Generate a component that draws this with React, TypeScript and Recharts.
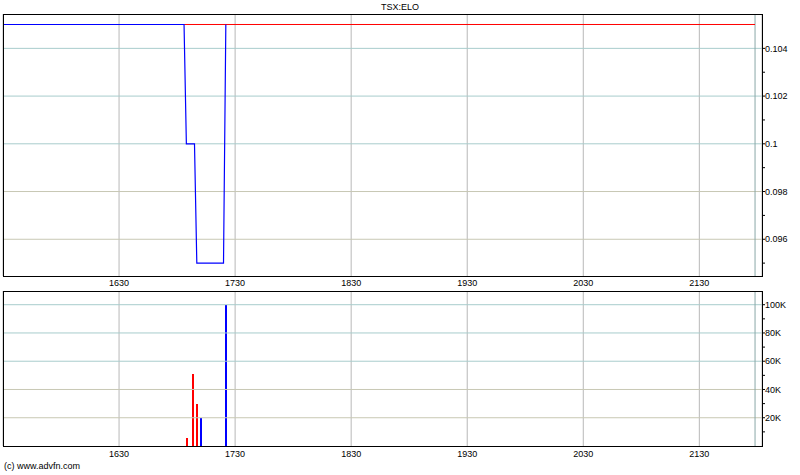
import { LineChart, Line, BarChart, Bar, Cell, XAxis, YAxis, CartesianGrid, ReferenceLine } from "recharts";

const FONT = "'Liberation Sans', Arial, sans-serif";

// x axis (time, HHMM-ish numeric)
const timeTicks = [1630, 1730, 1830, 1930, 2030, 2130];
const timeDomain = [1530, 2184];
const endTime = 2178;

// price panel
const blueTimes = [1530, 1686, 1688, 1695, 1697, 1720, 1722];
const bluePrices = [0.105, 0.105, 0.1, 0.1, 0.095, 0.095, 0.105];
const redTimes = [1686, 2178];
const redPrices = [0.105, 0.105];
const priceTicks = [0.095, 0.096, 0.097, 0.098, 0.099, 0.1, 0.101, 0.102, 0.103, 0.104];
const priceLabels = [0.096, 0.098, 0.1, 0.102, 0.104];
const priceDomain = [0.09446, 0.10544];

// volume panel
const volTimes = [1688.6, 1693.8, 1697.2, 1700.7, 1722.2];
const volValues = [5400, 51000, 30000, 20000, 100000];
const volColors = ["#ff0000", "#ff0000", "#ff0000", "#0000ff", "#0000ff"];
const volTicks = [10000, 20000, 30000, 40000, 50000, 60000, 70000, 80000, 90000, 100000];
const volLabels = [20000, 40000, 60000, 80000, 100000];
const volDomain = [0, 109700];

const blueData = blueTimes.map((t, i) => ({ t, v: bluePrices[i] }));
const redData = redTimes.map((t, i) => ({ t, v: redPrices[i] }));
const volData = volTimes.map((t, i) => ({ t, v: volValues[i] }));

const tealGrid = "#a8cccc";
const greyGrid = "#c8c8b4";
const vGrid = "#b8b8b8";
const tick = { fontSize: 9, fill: "#000", fontFamily: FONT };

function gridColor(i: number, n: number) {
  // upper lines teal-ish, lower ones grey-ish
  return i >= n - 3 ? tealGrid : greyGrid;
}

export default function App() {
  return (
    <div style={{ position: "fixed", left: 0, top: 0, width: 800, height: 475, background: "#fff", fontFamily: FONT }}>
      <div style={{ position: "absolute", top: 0, left: 0 }}>
        <LineChart width={800} height={290} margin={{ top: 14, right: 0, left: 3, bottom: 0 }}>
          <CartesianGrid horizontal={false} stroke={vGrid} />
          <XAxis
            dataKey="t"
            type="number"
            domain={timeDomain}
            ticks={timeTicks}
            allowDataOverflow
            height={14}
            tickLine={false}
            axisLine={false}
            tickSize={0}
            tickMargin={4}
            tick={tick}
          />
          <YAxis
            orientation="right"
            type="number"
            domain={priceDomain}
            ticks={priceTicks}
            allowDataOverflow
            width={38}
            axisLine={false}
            tickLine={{ stroke: "#000" }}
            tickSize={3}
            tickMargin={0}
            tick={tick}
            tickFormatter={(v: number) => (priceLabels.some((p) => Math.abs(p - v) < 1e-7) ? String(+v.toFixed(3)) : "")}
          />
          {priceLabels.map((p, i) => (
            <ReferenceLine key={p} y={p} stroke={gridColor(i, priceLabels.length)} ifOverflow="hidden" />
          ))}
          <ReferenceLine x={endTime} stroke="#8aa8a8" />
          <Line data={redData} dataKey="v" stroke="#ff0000" strokeWidth={1} dot={false} isAnimationActive={false} />
          <Line data={blueData} dataKey="v" stroke="#0000ff" strokeWidth={1.2} dot={false} isAnimationActive={false} />
        </LineChart>
      </div>
      <div style={{ position: "absolute", left: 3, top: 14, width: 760, height: 263, border: "1px solid #000", boxSizing: "border-box", pointerEvents: "none" }} />

      <div style={{ position: "absolute", top: 280, left: 0 }}>
        <BarChart width={800} height={182} data={volData} margin={{ top: 11, right: 0, left: 3, bottom: 0 }}>
          <CartesianGrid horizontal={false} stroke={vGrid} />
          <XAxis
            dataKey="t"
            type="number"
            domain={timeDomain}
            ticks={timeTicks}
            allowDataOverflow
            height={16}
            tickLine={false}
            axisLine={false}
            tickSize={0}
            tickMargin={5}
            tick={tick}
          />
          <YAxis
            orientation="right"
            type="number"
            domain={volDomain}
            ticks={volTicks}
            allowDataOverflow
            width={38}
            axisLine={false}
            tickLine={{ stroke: "#000" }}
            tickSize={3}
            tickMargin={0}
            tick={tick}
            tickFormatter={(v: number) => (volLabels.includes(v) ? `${v / 1000}K` : "")}
          />
          {volLabels.map((p, i) => (
            <ReferenceLine key={p} y={p} stroke={gridColor(i, volLabels.length)} />
          ))}
          <ReferenceLine x={endTime} stroke="#8aa8a8" />
          <Bar dataKey="v" barSize={1.5} shapeRendering="crispEdges" isAnimationActive={false}>
            {volData.map((_, i) => (
              <Cell key={i} fill={volColors[i]} />
            ))}
          </Bar>
        </BarChart>
      </div>
      <div style={{ position: "absolute", left: 3, top: 291, width: 760, height: 156, border: "1px solid #000", boxSizing: "border-box", pointerEvents: "none" }} />

      <div style={{ position: "absolute", left: 0, width: 800, top: 2, textAlign: "center", fontSize: 9, color: "#000" }}>TSX:ELO</div>
      <div style={{ position: "absolute", left: 4, top: 461, fontSize: 9, color: "#000" }}>(c) www.advfn.com</div>
    </div>
  );
}
